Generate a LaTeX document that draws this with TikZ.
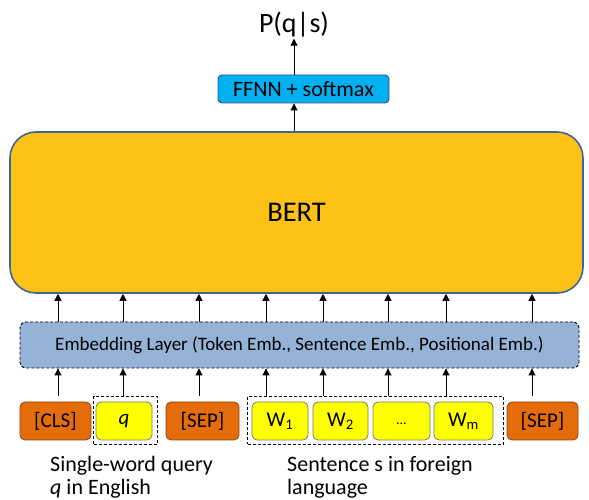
\documentclass[tikz,border=0pt]{standalone}
\usepackage{fontspec}
\setmainfont{Carlito}
\usetikzlibrary{arrows.meta,fit,calc}

\definecolor{bertfill}{RGB}{252,195,22}
\definecolor{bertline}{RGB}{65,100,150}
\definecolor{ffnnfill}{RGB}{0,176,240}
\definecolor{ffnnline}{RGB}{46,84,130}
\definecolor{embfill}{RGB}{149,179,215}
\definecolor{sepfill}{RGB}{228,108,10}
\definecolor{sepline}{RGB}{140,70,20}
\definecolor{wordfill}{RGB}{255,255,0}
\definecolor{wordline}{RGB}{120,120,120}

\begin{document}
\begin{tikzpicture}[
        x=1pt, y=1pt,
        arr/.style={-{Triangle[length=7pt,width=7pt]}, line width=0.9pt},
        tokbox/.style={rounded corners=5pt, line width=0.8pt, minimum height=38pt, inner sep=0pt, font=\fontsize{21}{24}\selectfont},
        specbox/.style={tokbox, draw=sepline, fill=sepfill},
        wordbox/.style={tokbox, draw=wordline, fill=wordfill},
        grpbox/.style={draw, dashed, line width=0.9pt, inner sep=0pt, dash pattern=on 3pt off 2pt},
        caption/.style={anchor=north west, align=left, inner sep=0pt, font=\fontsize{22}{23}\selectfont}
    ]
    \useasboundingbox (0,0) rectangle (589,500);

    % BERT and output head
    \node[draw=bertline, fill=bertfill, line width=1.6pt, rounded corners=26pt,
        minimum width=573pt, minimum height=161pt, font=\fontsize{28.5}{31}\selectfont] (bert) at (296.5,287.5) {BERT};
    \node[draw=ffnnline, fill=ffnnfill, line width=0.9pt, rounded corners=4pt,
        minimum width=171pt, minimum height=28pt, inner sep=0pt, font=\fontsize{22}{25}\selectfont] (ffnn) at (303.5,411) {FFNN + softmax};
    \node[font=\fontsize{28}{31}\selectfont, inner sep=1pt] (prob) at (294,475) {P(q|s)};

    % Embedding layer
    \node[draw, dashed, dash pattern=on 3pt off 2pt, fill=embfill, line width=0.9pt, rounded corners=6pt,
        minimum width=559pt, minimum height=46pt, font=\fontsize{19}{22}\selectfont] (emb) at (299.5,155) {Embedding Layer (Token Emb., Sentence Emb., Positional Emb.)};

    % Input tokens
    \node[specbox, minimum width=71pt] (cls) at (55.5,79) {[CLS]};
    \node[wordbox, minimum width=56pt] (q) at (124,79) {\textit{q}};
    \node[specbox, minimum width=73pt] (sep1) at (202.5,79) {[SEP]};
    \node[wordbox, minimum width=56pt] (w1) at (280,79) {W\textsubscript{1}};
    \node[wordbox, minimum width=55pt] (w2) at (340.5,79) {W\textsubscript{2}};
    \node[wordbox, minimum width=57pt] (wdots) at (401.5,79) {\raisebox{-8pt}{\fontsize{14}{16}\selectfont\ldots}};
    \node[wordbox, minimum width=59pt] (wm) at (463.5,79) {W\textsubscript{m}};
    \node[specbox, minimum width=71pt] (sep2) at (542.5,79) {[SEP]};

    % Dashed groups
    \node[grpbox, fit={($(q.north west)+(-2,5)$) ($(q.south east)+(5,-4)$)}] (qgrp) {};
    \node[grpbox, fit={($(w1.north west)+(-4,5)$) ($(wm.south east)+(10,-4)$)}] (sgrp) {};

    % Arrows
    \foreach \x in {58,123,199,266,323,388,446,532} {
        \draw[arr] (qgrp.north -| \x,0) -- (emb.south -| \x,0);
        \draw[arr] (emb.north -| \x,0) -- (bert.south -| \x,0);
    }
    \draw[arr] (bert.north -| prob) -- (ffnn.south -| prob);
    \draw[arr] (ffnn.north -| prob) -- (prob.south);

    % Captions
    \node[caption] (qcap) at (50,44) {Single-word query\\\textit{q} in English};
    \node[caption] (scap) at (287,44) {Sentence s in foreign\\language};

\end{tikzpicture}
\end{document}
